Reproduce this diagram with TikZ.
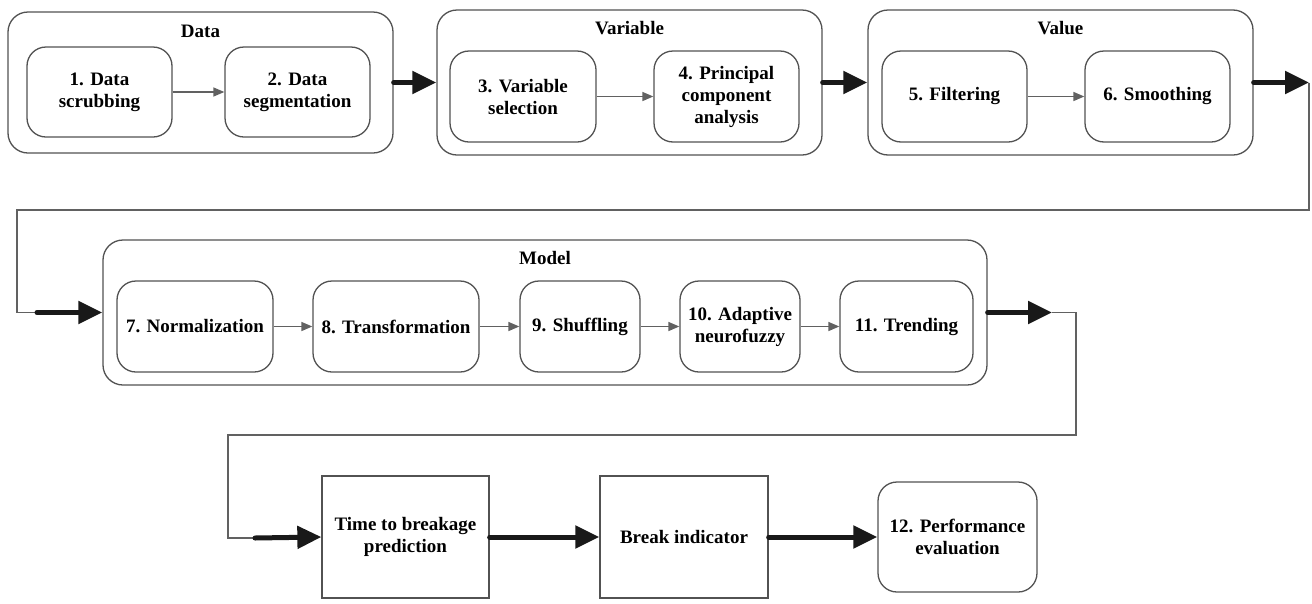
\documentclass[tikz,border=0pt]{standalone}
\usepackage{fontspec}
\setmainfont{Liberation Serif}
\usetikzlibrary{arrows.meta}

\begin{document}
\begin{tikzpicture}[x=1pt,y=-1pt,
    font=\fontsize{19}{22}\selectfont\bfseries,
    group/.style={draw=black!68, line width=1.3pt, rounded corners=20pt, inner sep=0pt},
    stage/.style={draw=black!68, line width=1.3pt, rounded corners=19pt, align=center, inner sep=0pt, minimum height=91pt},
    block/.style={draw=black!68, line width=1.3pt, align=center, inner sep=0pt, minimum height=122pt},
    link/.style={draw=black!62, line width=1.5pt, -{Triangle[length=11pt,width=9pt]}},
    wire/.style={draw=black!62, line width=1.5pt},
    bold arrow/.style={draw=black!90, line width=5pt, line cap=round, -{Triangle[length=24pt,width=22pt]}}]
            \useasboundingbox (0,0) rectangle (1312,603);

            \node (data) at (200.5,82.5) [group, minimum width=385pt, minimum height=141pt] {};
            \node (variable) at (629.5,82.5) [group, minimum width=385pt, minimum height=145pt] {};
            \node (value) at (1060.5,82.5) [group, minimum width=385pt, minimum height=145pt] {};
            \node (model) at (545,312.5) [group, minimum width=884pt, minimum height=145pt] {};
            \node (datatitle) at (200.5,31) {Data};
            \node (variabletitle) at (629.5,28) {Variable};
            \node (valuetitle) at (1060.5,28) {Value};
            \node (modeltitle) at (545,258) {Model};

            \node (scrub) at (99.5,92) [stage, minimum width=145pt, minimum height=90pt] {1. Data\\scrubbing};
            \node (segment) at (297.5,92) [stage, minimum width=145pt, minimum height=90pt] {2. Data\\segmentation};
            \node (select) at (523,96.5) [stage, minimum width=146pt] {3. Variable\\selection};
            \node (pca) at (726.5,96.5) [stage, minimum width=145pt] {4. Principal\\component\\analysis};
            \node (filter) at (954.5,96.5) [stage, minimum width=145pt] {5. Filtering};
            \node (smooth) at (1157.5,96.5) [stage, minimum width=145pt] {6. Smoothing};
            \node (norm) at (195,326.5) [stage, minimum width=156pt] {7. Normalization};
            \node (transf) at (396,326.5) [stage, minimum width=166pt] {8. Transformation};
            \node (shuffle) at (580,326.5) [stage, minimum width=120pt] {9. Shuffling};
            \node (anfis) at (740,326.5) [stage, minimum width=120pt] {10. Adaptive\\neurofuzzy};
            \node (trend) at (906.5,326.5) [stage, minimum width=133pt] {11. Trending};

            \node (ttb) at (405.5,537) [block, minimum width=167pt] {Time to breakage\\prediction};
            \node (brk) at (684,537) [block, minimum width=168pt] {Break indicator};
            \node (perf) at (957.5,537) [stage, minimum width=159pt, minimum height=110pt] {12. Performance\\evaluation};

            \draw[link] (scrub) -- (segment);
            \draw[link] (select) -- (pca);
            \draw[link] (filter) -- (smooth);
            \draw[link] (norm) -- (transf);
            \draw[link] (transf) -- (shuffle);
            \draw[link] (shuffle) -- (anfis);
            \draw[link] (anfis) -- (trend);

            \coordinate (turnA) at (1309,82.5);
            \coordinate (turnB) at (17,210);
            \coordinate (turnC) at (37,312.5);
            \coordinate (turnD) at (1052,312.5);
            \coordinate (turnE) at (1076,435);
            \coordinate (turnF) at (228,538);
            \coordinate (turnG) at (255,538);
            \draw[wire] (turnA) |- (turnB) |- (turnC);
            \draw[wire] (turnD) -| (turnE) -| (turnF) -- (turnG);

            \draw[bold arrow] (data) -- (variable);
            \draw[bold arrow] (variable) -- (value);
            \draw[bold arrow] (value.east) -- (turnA);
            \draw[bold arrow] (turnC) -- (model.west);
            \draw[bold arrow] (model.east) -- (turnD);
            \draw[bold arrow] (turnG) -- (ttb.west);
            \draw[bold arrow] (ttb) -- (brk);
            \draw[bold arrow] (brk) -- (perf);
    \end{tikzpicture}
\end{document}
